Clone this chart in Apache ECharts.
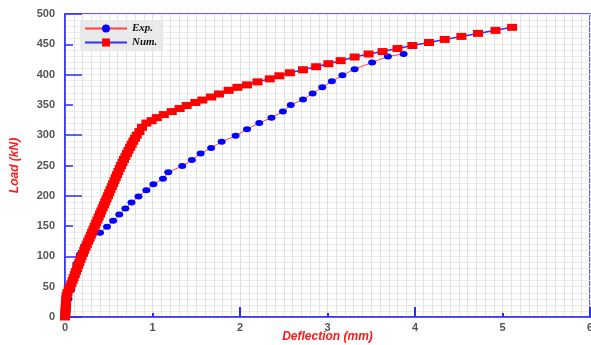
<!DOCTYPE html>
<html>
<head>
<meta charset="utf-8">
<script src="https://cdn.jsdelivr.net/npm/echarts@6/dist/echarts.min.js"></script>
<style>html,body{margin:0;padding:0;background:#fff}#c{width:591px;height:345px}</style>
</head>
<body>
<div id="c"></div>
<script>
const xTicks = [0, 1, 2, 3, 4, 5, 6];
const yTicks = [0, 50, 100, 150, 200, 250, 300, 350, 400, 450, 500];
const seriesNames = ['Exp.', 'Num.'];

const expX = [0, 0.02, 0.04, 0.07, 0.09, 0.11, 0.13, 0.17, 0.22, 0.29, 0.40, 0.48, 0.55, 0.62, 0.69, 0.76, 0.84, 0.93, 1.01, 1.12, 1.18, 1.34, 1.45, 1.55, 1.67, 1.79, 1.95, 2.08, 2.22, 2.36, 2.49, 2.58, 2.72, 2.83, 2.94, 3.05, 3.17, 3.31, 3.51, 3.69, 3.87];
const expY = [0, 15, 30, 45, 60, 75, 88, 103, 117, 128, 139, 149, 159, 169, 179, 189, 199, 209, 219, 228, 239, 249, 259, 270, 279, 289, 299, 310, 320, 329, 339, 350, 359, 369, 379, 389, 399, 409, 420, 430, 434];

const numX = [0, 0.004, 0.006, 0.008, 0.010, 0.012, 0.015, 0.018, 0.028, 0.042, 0.06, 0.073, 0.086, 0.099, 0.112, 0.125, 0.138, 0.151, 0.164, 0.177, 0.19, 0.205, 0.22, 0.235, 0.25, 0.265, 0.28, 0.295, 0.31, 0.325, 0.34, 0.355, 0.37, 0.385, 0.40, 0.415, 0.43, 0.445, 0.46, 0.475, 0.49, 0.505, 0.52, 0.535, 0.55, 0.565, 0.58, 0.595, 0.61, 0.625, 0.64, 0.657, 0.674, 0.691, 0.708, 0.726, 0.744, 0.762, 0.781, 0.80, 0.82, 0.85, 0.88, 0.93, 0.99, 1.05, 1.13, 1.22, 1.31, 1.39, 1.49, 1.57, 1.67, 1.76, 1.87, 1.97, 2.08, 2.20, 2.34, 2.45, 2.57, 2.72, 2.87, 3.01, 3.15, 3.31, 3.47, 3.63, 3.80, 3.97, 4.16, 4.34, 4.53, 4.72, 4.92, 5.11];
const numY = [0, 5, 10, 15, 20, 25, 30, 35, 40, 45, 50, 55, 60, 65, 70, 75, 80, 85, 90, 95, 100, 105, 110, 115, 120, 125, 130, 135, 140, 145, 150, 155, 160, 165, 170, 175, 180, 185, 190, 195, 200, 205, 210, 215, 220, 225, 230, 235, 240, 245, 250, 255, 260, 265, 270, 275, 280, 285, 290, 295, 300, 306, 313, 320, 324, 329, 334, 339, 344, 349, 354, 358, 363, 368, 374, 379, 383, 388, 393, 398, 403, 408, 413, 418, 423, 429, 434, 438, 443, 448, 453, 458, 463, 468, 473, 478];

const zip = (a, b) => a.map((v, i) => [v, b[i]]);
const blue = '#2b2bff';
const labelStyle = { color: '#555', fontSize: 11, fontWeight: 'bold', fontFamily: 'Liberation Sans, Arial, sans-serif' };

const chart = echarts.init(document.getElementById('c'), null, { renderer: 'canvas' });
chart.setOption({
  animation: false,
  backgroundColor: '#fff',
  grid: { left: 65, right: 1, top: 14, bottom: 28, containLabel: false, outerBoundsMode: 'none', show: true, borderColor: blue, borderWidth: 1.5, backgroundColor: 'transparent' },
  legend: {
    orient: 'vertical', left: 80, top: 20, itemGap: 3, itemWidth: 42, itemHeight: 10,
    padding: [3, 6, 3, 4],
    backgroundColor: 'rgba(232,232,232,0.85)',
    data: seriesNames,
    textStyle: { fontFamily: 'Liberation Serif, Times New Roman, serif', fontStyle: 'italic', fontWeight: 'bold', fontSize: 11, color: '#111' }
  },
  xAxis: [{
    type: 'value', min: xTicks[0], max: xTicks[xTicks.length - 1], interval: 1, position: 'bottom',
    name: 'Deflection (mm)', nameLocation: 'middle', nameGap: 14, nameMoveOverlap: false,
    nameTextStyle: { color: '#ff1a1a', fontStyle: 'italic', fontWeight: 'bold', fontSize: 12, fontFamily: 'Liberation Sans, Arial, sans-serif' },
    axisLine: { show: true, lineStyle: { color: blue, width: 1.5 } },
    axisTick: { show: true, inside: true, length: 4, lineStyle: { color: blue, width: 2 } },
    axisLabel: Object.assign({ margin: 5 }, labelStyle),
    splitLine: { show: true, lineStyle: { color: '#dedede', width: 1 } },
    minorTick: { show: false, splitNumber: 10 },
    minorSplitLine: { show: true, lineStyle: { color: '#e2e2e2', width: 1 } }
  }, {
    type: 'value', min: 0, max: 6, interval: 2, position: 'bottom',
    axisLine: { show: false }, axisLabel: { show: false }, splitLine: { show: false },
    axisTick: { show: true, inside: true, length: 10, lineStyle: { color: blue, width: 2 } }
  }],
  yAxis: [{
    type: 'value', min: yTicks[0], max: yTicks[yTicks.length - 1], interval: 50, position: 'left',
    name: 'Load (kN)', nameLocation: 'middle', nameGap: 44, nameMoveOverlap: false,
    nameTextStyle: { color: '#ff1a1a', fontStyle: 'italic', fontWeight: 'bold', fontSize: 12, fontFamily: 'Liberation Sans, Arial, sans-serif' },
    axisLine: { show: true, lineStyle: { color: blue, width: 1.5 } },
    axisTick: { show: true, inside: true, length: 8, lineStyle: { color: blue, width: 1.5 } },
    axisLabel: Object.assign({ margin: 10 }, labelStyle),
    splitLine: { show: true, lineStyle: { color: '#ececec', width: 1 } },
    minorTick: { show: false, splitNumber: 5 },
    minorSplitLine: { show: true, lineStyle: { color: '#ececec', width: 1 } }
  }, {
    type: 'value', min: 0, max: 500, interval: 100, position: 'left',
    axisLine: { show: false }, axisLabel: { show: false }, splitLine: { show: false },
    axisTick: { show: true, inside: true, length: 17, lineStyle: { color: blue, width: 1.5 } }
  }],
  series: [{
    name: seriesNames[0], type: 'line', xAxisIndex: 0, yAxisIndex: 0,
    data: zip(expX, expY),
    symbol: 'circle', symbolSize: [8, 6], showSymbol: true,
    itemStyle: { color: '#0000ff' },
    lineStyle: { color: '#ff4040', width: 1 },
    z: 3
  }, {
    name: seriesNames[1], type: 'line', xAxisIndex: 0, yAxisIndex: 0,
    data: zip(numX, numY),
    symbol: 'rect', symbolSize: [10, 7], showSymbol: true,
    itemStyle: { color: '#ff0000' },
    lineStyle: { color: '#3030ff', width: 1.5 },
    z: 4
  }]
});
</script>
</body>
</html>
